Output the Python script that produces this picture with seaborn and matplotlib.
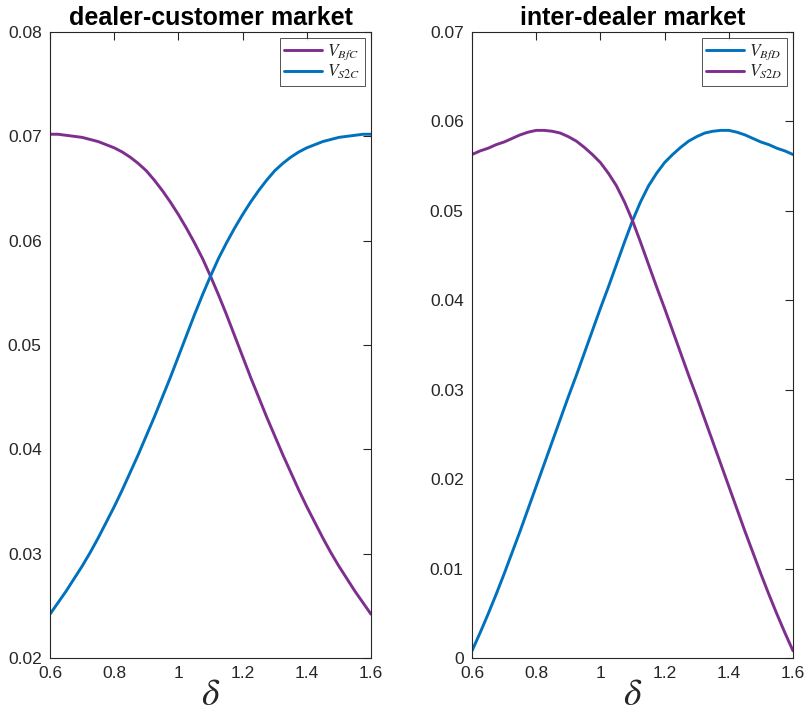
import numpy as np
import pandas as pd
import matplotlib
matplotlib.use("Agg")
import matplotlib.pyplot as plt
import seaborn as sns

# ---- data ----
delta = [0.600, 0.625, 0.650, 0.675, 0.700, 0.725, 0.750, 0.775, 0.800, 0.825,
         0.850, 0.875, 0.900, 0.925, 0.950, 0.975, 1.000, 1.025, 1.050, 1.075,
         1.100, 1.125, 1.150, 1.175, 1.200, 1.225, 1.250, 1.275, 1.300, 1.325,
         1.350, 1.375, 1.400, 1.425, 1.450, 1.475, 1.500, 1.525, 1.550, 1.575,
         1.600]

# dealer-customer market
V_BfC = [0.0702, 0.0702, 0.0701, 0.0700, 0.0699, 0.0697, 0.0695, 0.0692, 0.0689, 0.0685,
         0.0680, 0.0674, 0.0667, 0.0658, 0.0648, 0.0637, 0.0625, 0.0612, 0.0598, 0.0583,
         0.0566, 0.0548, 0.0529, 0.0509, 0.0489, 0.0469, 0.0450, 0.0431, 0.0413, 0.0395,
         0.0378, 0.0361, 0.0345, 0.0330, 0.0315, 0.0301, 0.0288, 0.0276, 0.0264, 0.0253,
         0.0242]
V_S2C = [0.0242, 0.0253, 0.0264, 0.0276, 0.0288, 0.0301, 0.0315, 0.0330, 0.0345, 0.0361,
         0.0378, 0.0395, 0.0413, 0.0431, 0.0450, 0.0469, 0.0489, 0.0509, 0.0529, 0.0548,
         0.0566, 0.0583, 0.0598, 0.0612, 0.0625, 0.0637, 0.0648, 0.0658, 0.0667, 0.0674,
         0.0680, 0.0685, 0.0689, 0.0692, 0.0695, 0.0697, 0.0699, 0.0700, 0.0701, 0.0702,
         0.0702]

# inter-dealer market
V_S2D = [0.0563, 0.0567, 0.0570, 0.0574, 0.0577, 0.0581, 0.0585, 0.0588, 0.0590, 0.0590,
         0.0589, 0.0587, 0.0583, 0.0578, 0.0571, 0.0563, 0.0554, 0.0542, 0.0528, 0.0510,
         0.0489, 0.0465, 0.0440, 0.0415, 0.0391, 0.0366, 0.0341, 0.0316, 0.0292, 0.0267,
         0.0242, 0.0217, 0.0192, 0.0167, 0.0142, 0.0118, 0.0094, 0.0071, 0.0049, 0.0028,
         0.0008]
V_BfD = [0.0008, 0.0028, 0.0049, 0.0071, 0.0094, 0.0118, 0.0142, 0.0167, 0.0192, 0.0217,
         0.0242, 0.0267, 0.0292, 0.0316, 0.0341, 0.0366, 0.0391, 0.0415, 0.0440, 0.0465,
         0.0489, 0.0510, 0.0528, 0.0542, 0.0554, 0.0563, 0.0571, 0.0578, 0.0583, 0.0587,
         0.0589, 0.0590, 0.0590, 0.0588, 0.0585, 0.0581, 0.0577, 0.0574, 0.0570, 0.0567,
         0.0563]

titles = ["dealer-customer market", "inter-dealer market"]
xticks = [0.6, 0.8, 1.0, 1.2, 1.4, 1.6]
xticklabels = ["0.6", "0.8", "1", "1.2", "1.4", "1.6"]
yticks_left = [0.02, 0.03, 0.04, 0.05, 0.06, 0.07, 0.08]
yticks_right = [0.0, 0.01, 0.02, 0.03, 0.04, 0.05, 0.06, 0.07]

BLUE = "#0072BD"
PURPLE = "#7E2F8E"
INK = "#262626"

sns.set_style("white")
plt.rcParams["font.family"] = ["Liberation Sans", "DejaVu Sans"]
plt.rcParams["mathtext.fontset"] = "stix"

fig = plt.figure(figsize=(8.06, 7.19), dpi=100)
axL = fig.add_axes([50 / 806, 61 / 719, 321 / 806, 626 / 719])
axR = fig.add_axes([472 / 806, 61 / 719, 321 / 806, 626 / 719])

n = len(delta)
dfL = pd.DataFrame({
    "delta": delta * 2,
    "value": V_BfC + V_S2C,
    "series": [r"$V_{BfC}$"] * n + [r"$V_{S2C}$"] * n,
})
dfR = pd.DataFrame({
    "delta": delta * 2,
    "value": V_BfD + V_S2D,
    "series": [r"$V_{BfD}$"] * n + [r"$V_{S2D}$"] * n,
})

sns.lineplot(data=dfL, x="delta", y="value", hue="series",
             hue_order=[r"$V_{BfC}$", r"$V_{S2C}$"],
             palette=[PURPLE, BLUE], linewidth=2.1, ax=axL)
sns.lineplot(data=dfR, x="delta", y="value", hue="series",
             hue_order=[r"$V_{BfD}$", r"$V_{S2D}$"],
             palette=[BLUE, PURPLE], linewidth=2.1, ax=axR)

for ax, title, yt, ylim in [(axL, titles[0], yticks_left, (0.02, 0.08)),
                            (axR, titles[1], yticks_right, (0.0, 0.07))]:
    ax.set_xlim(0.6, 1.6)
    ax.set_ylim(*ylim)
    ax.set_xticks(xticks)
    ax.set_xticklabels(xticklabels)
    ax.set_yticks(yt)
    ax.set_yticklabels(["0" if v == 0 else f"{v:.2f}" for v in yt])
    ax.set_xlabel(r"$\delta$", fontsize=27, labelpad=-3)
    ax.set_ylabel("")
    ax.set_title(title, fontsize=18, fontweight="bold", pad=5, color="black")
    ax.tick_params(direction="in", length=6, width=0.8, color=INK,
                   labelsize=12.5, labelcolor=INK,
                   top=True, right=True)
    ax.tick_params(axis="x", pad=6)
    ax.tick_params(axis="y", pad=6)
    for sp in ax.spines.values():
        sp.set_visible(True)
        sp.set_color(INK)
        sp.set_linewidth(0.8)
    leg = ax.legend(loc="upper right", fontsize=12.5, frameon=True, fancybox=False,
                    edgecolor=INK, handlelength=2.2, borderaxespad=0.35,
                    borderpad=0.25, labelspacing=0.05, handletextpad=0.3)
    leg.get_frame().set_linewidth(0.7)

fig.savefig("out.png", dpi=100)
